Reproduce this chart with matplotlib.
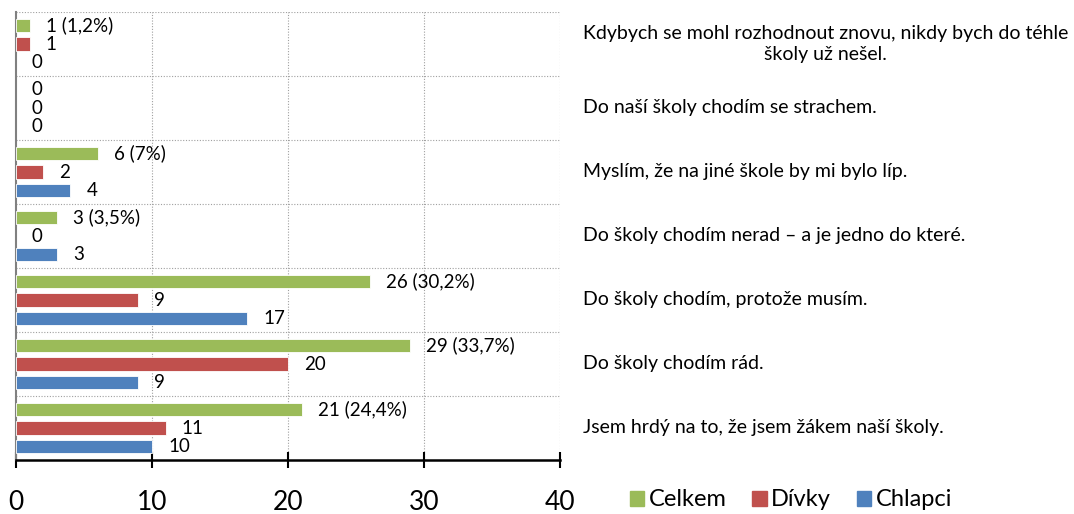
import matplotlib
matplotlib.use("Agg")
import matplotlib.pyplot as plt
from matplotlib.patches import Patch
from matplotlib.transforms import blended_transform_factory

plt.rcParams['font.family'] = ['Lato', 'DejaVu Sans']

# ── Data ───────────────────────────────────────────────────────────────────────
categories = [
    "Kdybych se mohl rozhodnout znovu, nikdy bych do téhle\nškoly už nešel.",
    "Do naší školy chodím se strachem.",
    "Myslím, že na jiné škole by mi bylo líp.",
    "Do školy chodím nerad – a je jedno do které.",
    "Do školy chodím, protože musím.",
    "Do školy chodím rád.",
    "Jsem hrdý na to, že jsem žákem naší školy.",
]
celkem = [1, 0, 6, 3, 26, 29, 21]
celkem_pct = ["1,2%", None, "7%", "3,5%", "30,2%", "33,7%", "24,4%"]
divky = [1, 0, 2, 0, 9, 20, 11]
chlapci = [0, 0, 4, 3, 17, 9, 10]
xticks = [0, 10, 20, 30, 40]

GREEN = "#9BBB59"
RED = "#C0504D"
BLUE = "#4F81BD"

# ── Figure ─────────────────────────────────────────────────────────────────────
W, H = 1074, 514
fig = plt.figure(figsize=(W / 100, H / 100), dpi=100)
ax = fig.add_axes([16 / W, (H - 460) / H, (560 - 16) / W, (460 - 12) / H])
label_tr = blended_transform_factory(fig.transFigure, ax.transData)

bar_h = 0.215
step = 0.29
series = [(celkem, GREEN, -step), (divky, RED, 0.0), (chlapci, BLUE, step)]

for i, cat in enumerate(categories):
    yc = i + 0.5
    for k, (vals, col, off) in enumerate(series):
        v = vals[i]
        if v > 0:
            ax.barh(yc + off, v, height=bar_h, color=col, edgecolor="white",
                    linewidth=0.6, zorder=3)
        if k == 0 and v > 0:
            txt = f"{v} ({celkem_pct[i]})"
        else:
            txt = f"{v}"
        ax.annotate(txt, (v, yc + off), xytext=(11.5, 0), textcoords="offset points",
                    va="center", ha="left", fontsize=13.5, color="black", zorder=4)
    ax.text(583 / W, yc, cat, transform=label_tr, ha="left", va="center",
            multialignment="center", fontsize=14, color="black",
            linespacing=1.3)

ax.set_xlim(0, 40)
ax.set_ylim(len(categories), 0)

# grid
for y in range(0, len(categories)):
    ax.axhline(y, color="#A0A0A0", linestyle=(0, (1, 1.5)), linewidth=0.8, zorder=1)
for x in xticks[1:]:
    ax.axvline(x, color="#A0A0A0", linestyle=(0, (1, 1.5)), linewidth=0.8, zorder=1)

ax.set_yticks([])
ax.set_xticks(xticks)
ax.tick_params(axis="x", direction="inout", length=11.5, width=1.5, pad=16,
               labelsize=19, colors="black")
for s in ("top", "right"):
    ax.spines[s].set_visible(False)
ax.spines["left"].set_color("#808080")
ax.spines["left"].set_linewidth(1.5)
ax.spines["bottom"].set_color("black")
ax.spines["bottom"].set_linewidth(1.8)
ax.spines["bottom"].set_zorder(5)

handles = [Patch(color=GREEN, label="Celkem"),
           Patch(color=RED, label="Dívky"),
           Patch(color=BLUE, label="Chlapci")]
fig.legend(handles=handles, loc="center", bbox_to_anchor=(791 / W, (H - 500) / H),
           ncol=3, frameon=False, fontsize=17, handlelength=0.6, handleheight=0.6,
           handletextpad=0.2, columnspacing=1.1, borderaxespad=0)

fig.savefig("out.png", dpi=100)
